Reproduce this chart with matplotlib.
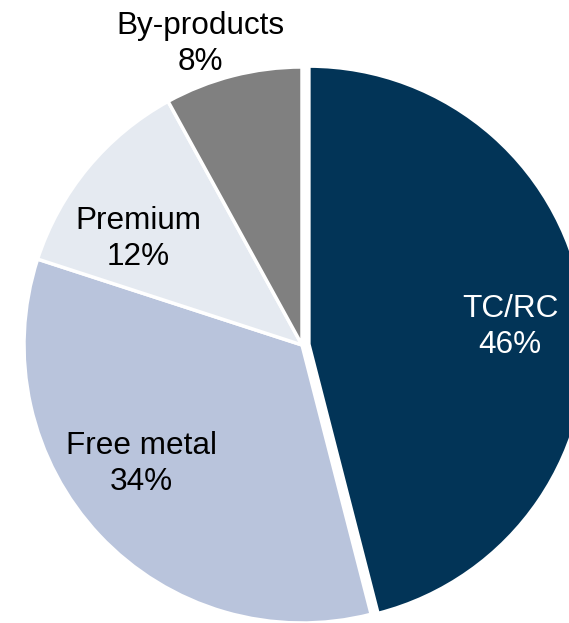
import numpy as np
import matplotlib.pyplot as plt

plt.rcParams['font.family'] = ['Liberation Sans', 'DejaVu Sans']

# data
labels = ['TC/RC', 'Free metal', 'Premium', 'By-products']
shares = [46, 34, 12, 8]
colors = ['#023457', '#b9c4dc', '#e5eaf1', '#808080']
text_colors = ['white', 'black', 'black', 'black']
# label anchors (pie radius = 1)
label_xy = [(0.748, 0.065), (-0.579, -0.428), (-0.590, 0.381), (-0.367, 1.083)]

fig = plt.figure(figsize=(5.69, 6.23), dpi=100)
ax = fig.add_axes([24 / 569, 0, 556 / 569, 556 / 623])

wedges, _ = ax.pie(shares, startangle=90, counterclock=False, colors=colors,
                   explode=[0.025, 0, 0, 0],
                   wedgeprops=dict(edgecolor='white', linewidth=2.5))
for w in wedges:
    w.set_clip_on(False)

for lab, s, tc, (x, y) in zip(labels, shares, text_colors, label_xy):
    ax.text(x, y, f'{lab}\n{s}%', ha='center', va='center', fontsize=22.7,
            color=tc, linespacing=1.27, clip_on=False)

ax.set_xlim(-1, 1)
ax.set_ylim(-1, 1)
ax.set_aspect('equal')
ax.axis('off')

fig.savefig('out.png', dpi=100)
